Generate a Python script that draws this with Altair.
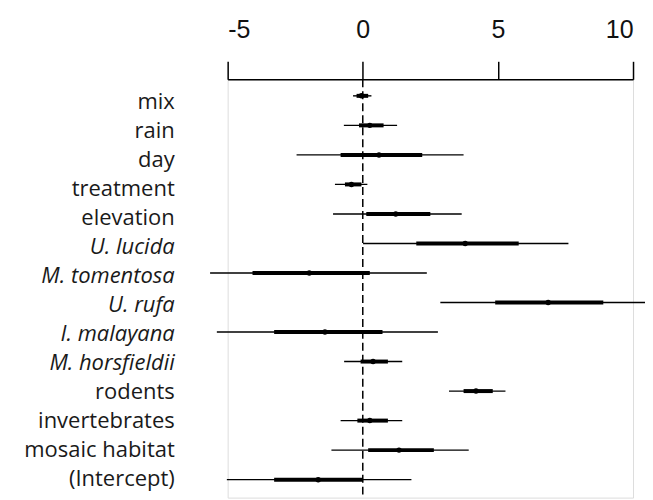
import altair as alt
import pandas as pd

labels = ["mix", "rain", "day", "treatment", "elevation", "U. lucida", "M. tomentosa",
          "U. rufa", "I. malayana", "M. horsfieldii", "rodents", "invertebrates",
          "mosaic habitat", "(Intercept)"]
italic = [False, False, False, False, False, True, True, True, True, True, False, False, False, False]
est = [-0.05, 0.26, 0.6, -0.42, 1.22, 3.79, -1.98, 6.86, -1.4, 0.38, 4.19, 0.26, 1.34, -1.65]
lo95 = [-0.36, -0.7, -2.45, -1.03, -1.1, 0.01, -5.65, 2.87, -5.4, -0.69, 3.19, -0.82, -1.16, -5.03]
hi95 = [0.32, 1.27, 3.73, 0.17, 3.66, 7.61, 2.37, 10.68, 2.78, 1.46, 5.28, 1.46, 3.92, 1.8]
lo50 = [-0.23, -0.14, -0.82, -0.66, 0.13, 1.98, -4.08, 4.9, -3.28, -0.08, 3.73, -0.2, 0.2, -3.28]
hi50 = [0.2, 0.77, 2.2, -0.05, 2.5, 5.77, 0.26, 8.9, 0.73, 0.93, 4.81, 0.93, 2.63, 0.01]
x_ticks = [-5, 0, 5, 10]

df = pd.DataFrame({"label": labels, "italic": italic, "est": est,
                   "lo95": lo95, "hi95": hi95, "lo50": lo50, "hi50": hi50})

W, H = 406, 419
xscale = alt.Scale(domain=[-5, 10], nice=False, zero=False)
row_scale = alt.Scale(type="point", domain=labels, range=[16.6, 401], padding=0)
lab_scale = alt.Scale(type="point", domain=labels, range=[29.3, 407.7], padding=0)

xaxis = alt.Axis(orient="top", values=x_ticks, grid=False, title=None,
                 tickSize=18, tickWidth=1.5, tickColor="black",
                 domainWidth=1.5, domainColor="black",
                 labelFont="Liberation Sans Narrow, Liberation Sans", labelFontSize=25,
                 labelColor="#111", labelBaseline="alphabetic", labelPadding=24,
                 labelExpr="'' + datum.value")

base = alt.Chart(df)
y_row = alt.Y("label:N", scale=row_scale, axis=None, sort=labels)

zero = alt.Chart(pd.DataFrame({"z": [0]})).mark_rule(
    strokeDash=[8, 4], strokeWidth=1.5, color="black"
).encode(x=alt.X("z:Q", scale=xscale, axis=xaxis))

thin = base.mark_rule(strokeWidth=1.4, color="black").encode(
    x=alt.X("lo95:Q", scale=xscale, axis=xaxis), x2="hi95:Q", y=y_row)
thick = base.mark_rule(strokeWidth=4, color="black").encode(
    x=alt.X("lo50:Q", scale=xscale), x2="hi50:Q", y=y_row)
pts = base.mark_circle(size=30, color="black", opacity=1).encode(
    x=alt.X("est:Q", scale=xscale), y=y_row)

y_lab = alt.Y("label:N", scale=lab_scale, axis=None, sort=labels)
lab_n = base.transform_filter("!datum.italic").mark_text(
    align="right", baseline="alphabetic", font="Open Sans", fontSize=22, color="#1a1a1a"
).encode(x=alt.value(-53), y=y_lab, text="label:N")
lab_i = base.transform_filter("datum.italic").mark_text(
    align="right", baseline="alphabetic", font="Open Sans", fontSize=22, fontStyle="italic", color="#1a1a1a"
).encode(x=alt.value(-53), y=y_lab, text="label:N")

chart = alt.layer(zero, thin, thick, pts, lab_n, lab_i).resolve_scale(
    y="independent"
).properties(
    width=W, height=H,
    autosize=alt.AutoSizeParams(type="none"),
    padding={"left": 220, "top": 71, "right": 12, "bottom": 2},
).configure_view(strokeWidth=0, stroke="transparent").configure(background="white")

chart.save("out.html", embed_options={"renderer": "svg", "actions": False})
